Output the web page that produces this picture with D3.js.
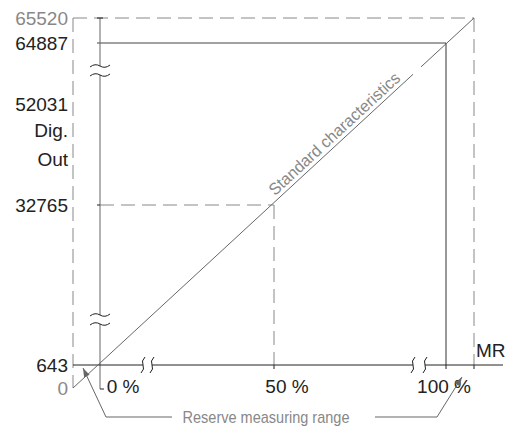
<!DOCTYPE html>
<html>
<head>
<meta charset="utf-8">
<script src="https://cdn.jsdelivr.net/npm/d3@7"></script>
<style>
  body { margin: 0; background: #fff; }
  svg { display: block; font-family: "Liberation Sans Narrow", "Liberation Sans", sans-serif; }
</style>
</head>
<body>
<svg id="chart"></svg>
<script>
const width = 507;
const height = 428;

// digital output levels (y) and measuring range in percent (x)
const yLevels = [0, 643, 32765, 52031, 64887, 65520];
const yLabels = ['0', '643', '32765', '52031', '64887', '65520'];
const xLevels = [-8, 0, 50, 100, 108];
const xTicks = [0, 50, 100];
const xLabels = ['0 %', '50 %', '100 %'];
const curveX = [-8, 0, 50, 100, 108];
const curveY = [0, 643, 32765, 64887, 65520];

const svg = d3.select('#chart')
  .attr('width', width)
  .attr('height', height);

// schematic (broken) axes -> piecewise scales
const x = d3.scaleLinear().domain(xLevels).range([73, 100, 274, 446, 474]);
const y = d3.scaleLinear().domain(yLevels).range([388, 365, 205, 104, 43, 18]);

const dark = '#222';
const grey = '#888';
const mid = '#666';

const x0 = x(0), xMin = x(-8), xMax = x(108);
const yBase = y(643), yTop = y(65520), yZero = y(0);

const line = (x1, y1, x2, y2, stroke, dash, w) => svg.append('line')
  .attr('x1', x1).attr('y1', y1).attr('x2', x2).attr('y2', y2)
  .attr('stroke', stroke)
  .attr('stroke-width', w || 1)
  .attr('stroke-dasharray', dash || null);

const dashes = '14,7';

// outer dashed frame (reserve range)
line(xMin, yTop, xMax, yTop, grey, dashes);
line(xMin, yTop, xMin, yZero, grey, dashes);
line(xMax, yTop, xMax, yBase, grey, dashes);

// 50 % dashed guides
line(x0, y(32765), x(50), y(32765), grey, dashes);
line(x(50), y(32765), x(50), yBase, grey, dashes);

// 64887 / 100 % solid lines
line(x0 - 3, y(64887), x(100), y(64887), '#444');
line(x(100), y(64887), x(100), yBase, '#333');

// vertical axis with breaks
const yBreaks = [[66, 75], [315, 324]];
line(x0, yTop, x0, yBreaks[0][0], mid);
line(x0, yBreaks[0][1], x0, yBreaks[1][0], mid);
line(x0, yBreaks[1][1], x0, yZero + 1, mid);
line(x0 - 3, yTop, x0 + 3, yTop, dark);
line(x0 - 3, y(32765), x0, y(32765), dark);
line(x0, yZero + 1, x0 + 4, yZero + 1, dark);

yBreaks.flat().forEach((by) => {
  svg.append('path')
    .attr('transform', `translate(${x0},${by})`)
    .attr('d', 'M-10,1 Q-5,-3 0,0 T10,-1')
    .attr('fill', 'none')
    .attr('stroke', dark);
});

// horizontal axis with breaks
const xBreaks = [[143, 152], [413, 425]];
line(xMin, yBase, xBreaks[0][0], yBase, dark);
line(xBreaks[0][1], yBase, xBreaks[1][0], yBase, dark);
line(xBreaks[1][1], yBase, 503, yBase, dark);
xBreaks.flat().forEach((bx) => {
  svg.append('path')
    .attr('transform', `translate(${bx},${yBase})`)
    .attr('d', 'M2,-8 Q-2,-4 0,0 T-2,8')
    .attr('fill', 'none')
    .attr('stroke', dark);
});
[x(50), x(100), xMax].forEach((tx) => line(tx, yBase, tx, yBase + 4, dark));

// standard characteristic
const pts = curveX.map((d, i) => [x(d), y(curveY[i])]);
const gapA = 0.848, gapB = 0.868;
const start = pts[0], end = pts[pts.length - 1];
const lerp = (t) => [start[0] + (end[0] - start[0]) * t, start[1] + (end[1] - start[1]) * t];
svg.append('path')
  .attr('d', d3.line()([start, lerp(gapA)]))
  .attr('stroke', mid).attr('fill', 'none');
svg.append('path')
  .attr('d', d3.line()([lerp(gapB), end]))
  .attr('stroke', mid).attr('fill', 'none');

const angle = Math.atan2(end[1] - start[1], end[0] - start[0]) * 180 / Math.PI;
const tp = lerp(0.668);
svg.append('text')
  .attr('transform', `translate(${tp[0]},${tp[1]}) rotate(${angle}) translate(0,-4)`)
  .attr('text-anchor', 'middle')
  .attr('fill', grey)
  .attr('font-size', 16.5)
  .attr('textLength', 172)
  .attr('lengthAdjust', 'spacingAndGlyphs')
  .text('Standard characteristics');

// y labels
svg.append('g')
  .selectAll('text')
  .data(yLevels)
  .join('text')
  .attr('x', 68)
  .attr('y', (d) => y(d) + 7)
  .attr('text-anchor', 'end')
  .attr('font-size', 19)
  .attr('fill', (d) => (d === 0 || d === 65520) ? grey : dark)
  .text((d, i) => yLabels[i]);

svg.append('text')
  .attr('x', 68).attr('y', 137)
  .attr('text-anchor', 'end').attr('font-size', 19).attr('fill', dark)
  .text('Dig.');
svg.append('text')
  .attr('x', 68).attr('y', 166)
  .attr('text-anchor', 'end').attr('font-size', 19).attr('fill', dark)
  .text('Out');

// x labels
const labelShift = [23, 13, -2];
svg.append('g')
  .selectAll('text')
  .data(xTicks)
  .join('text')
  .attr('x', (d, i) => x(d) + labelShift[i])
  .attr('y', yBase + 28)
  .attr('text-anchor', 'middle')
  .attr('font-size', 19)
  .attr('fill', dark)
  .text((d, i) => xLabels[i]);

svg.append('text')
  .attr('x', 476).attr('y', 357)
  .attr('font-size', 19).attr('fill', dark)
  .text('MR');

// reserve measuring range annotation
const annY = 417;
const arrow = (tip, from) => {
  const a = Math.atan2(tip[1] - from[1], tip[0] - from[0]);
  const l = 9, w = 3;
  const b = [tip[0] - l * Math.cos(a), tip[1] - l * Math.sin(a)];
  svg.append('path')
    .attr('d', d3.line()([
      tip,
      [b[0] + w * Math.sin(a), b[1] - w * Math.cos(a)],
      [b[0] - w * Math.sin(a), b[1] + w * Math.cos(a)]
    ]) + 'Z')
    .attr('fill', mid);
};
svg.append('path')
  .attr('d', d3.line()([[83, 368], [106, annY], [172, annY]]))
  .attr('stroke', mid).attr('fill', 'none');
arrow([83, 368], [106, annY]);
svg.append('path')
  .attr('d', d3.line()([[375, annY], [437, annY], [462, 377]]))
  .attr('stroke', mid).attr('fill', 'none');
arrow([462, 377], [437, annY]);

svg.append('text')
  .attr('x', 266).attr('y', annY + 6)
  .attr('text-anchor', 'middle')
  .attr('font-size', 17)
  .attr('textLength', 167)
  .attr('lengthAdjust', 'spacingAndGlyphs')
  .attr('fill', grey)
  .text('Reserve measuring range');
</script>
</body>
</html>
